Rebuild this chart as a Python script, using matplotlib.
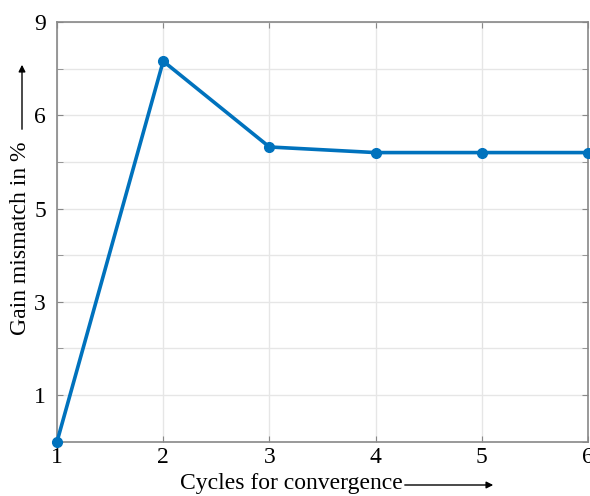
# Gain mismatch vs. number of calibration cycles
import matplotlib
matplotlib.use("Agg")
import matplotlib.pyplot as plt

cycles = [1, 2, 3, 4, 5, 6]
mismatch = [0.0, 8.16, 6.32, 6.2, 6.2, 6.2]

ytick_pos = [1, 3, 5, 7, 9]
ytick_lbl = ["1", "3", "5", "6", "9"]
xtick_pos = [1, 2, 3, 4, 5, 6]

LINE = "#0072BD"
SPINE = "#888888"
plt.rcParams.update({"font.family": ["Liberation Serif", "DejaVu Serif"],
                     "font.size": 17})

fig = plt.figure(figsize=(5.9, 4.96), dpi=100)
ax = fig.add_axes([57 / 590, 1 - 441.7 / 496, 531 / 590, 419.7 / 496])

ax.plot(cycles, mismatch, color=LINE, lw=2.6, marker="o", ms=7,
        clip_on=False, zorder=5)

ax.set_xlim(1, 6)
ax.set_ylim(0, 9)
ax.set_xticks(xtick_pos)
ax.set_xticklabels([str(c) for c in xtick_pos])
ax.set_yticks(ytick_pos)
ax.set_yticklabels(ytick_lbl)
ax.set_yticks(range(0, 10), minor=True)
ax.grid(True, which="both", axis="y", color="#e6e6e6", lw=1.0)
ax.grid(True, which="major", axis="x", color="#e6e6e6", lw=1.0)
ax.set_axisbelow(True)

ax.tick_params(which="both", direction="in", length=4, color=SPINE,
               top=True, right=True, labelsize=17, pad=4)
ax.tick_params(axis="y", pad=8)
for sp in ax.spines.values():
    sp.set_edgecolor(SPINE)
    sp.set_linewidth(1.2)

# axis labels with arrows pointing in increasing direction
fig.text(180 / 590, 1 - 484 / 496, "Cycles for convergence",
         ha="left", va="center", fontsize=17)
fig.add_artist(matplotlib.patches.FancyArrowPatch(
    (402 / 590, 1 - 485 / 496), (496 / 590, 1 - 485 / 496),
    transform=fig.transFigure, arrowstyle="-|>", mutation_scale=10,
    color="black", lw=1.0))

fig.text(21 / 590, 1 - 238 / 496, "Gain mismatch in %",
         ha="center", va="center", rotation=90, fontsize=17)
fig.add_artist(matplotlib.patches.FancyArrowPatch(
    (22 / 590, 1 - 132 / 496), (22 / 590, 1 - 62 / 496),
    transform=fig.transFigure, arrowstyle="-|>", mutation_scale=10,
    color="black", lw=1.0))

fig.savefig("out.png", dpi=100, facecolor="white")
